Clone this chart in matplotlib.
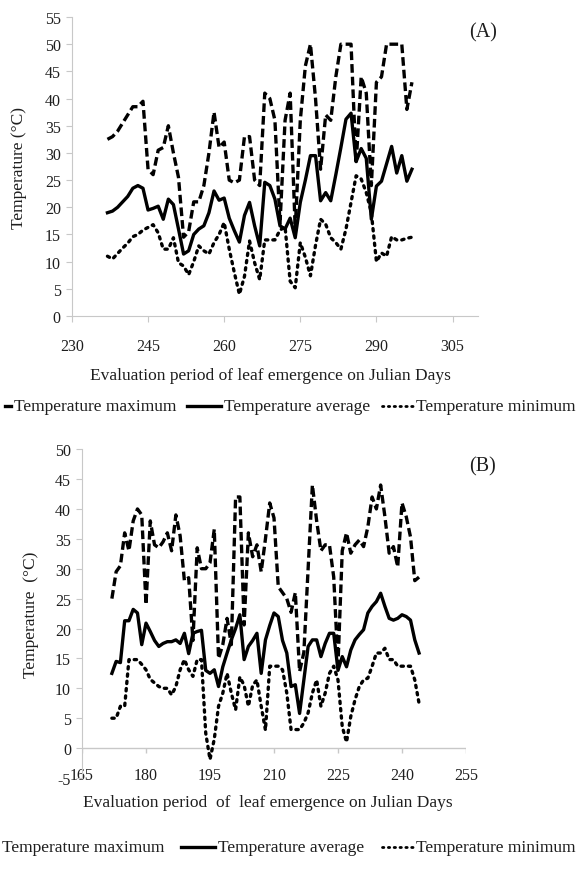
import matplotlib
matplotlib.use("Agg")
import matplotlib.pyplot as plt
from matplotlib.lines import Line2D
import numpy as np

plt.rcParams['font.family'] = ['Liberation Serif', 'DejaVu Serif']
plt.rcParams['axes.unicode_minus'] = False

# Panel A: Julian days 237-297
days_a = np.arange(237, 298)
tmax_a = [32.5, 33, 34, 35.5, 37, 38.5, 38.5, 39.5, 27, 26,
          30.5, 31, 35, 30, 25.5, 14.5, 15.5, 21, 21, 24,
          30, 37.5, 31, 32, 25, 24.5, 25, 33, 33, 25,
          24, 41, 40, 36, 17, 36, 41, 16, 36, 46,
          50, 40, 27, 37, 36, 44, 50, 50, 50, 28,
          44, 41, 24, 43, 44, 50, 50, 50, 50, 38,
          43]
tavg_a = [19, 19.3, 20, 21, 22, 23.5, 24, 23.5, 19.5, 19.8,
          20.2, 17.8, 21.5, 20.5, 16, 11.4, 12, 15, 16, 16.6,
          19, 23, 21.3, 21.7, 18, 15.7, 13.6, 18.5, 20.9, 16.6,
          12.9, 24.6, 24, 21.5, 16.6, 16, 18, 14.4, 20.9, 25,
          29.5, 29.5, 21.2, 22.7, 21.2, 26, 31, 36.2, 37.3, 28.4,
          30.8, 29, 17.8, 23.9, 24.8, 28, 31.2, 26.3, 29.5, 24.8,
          27]
tmin_a = [11, 10.5, 11.5, 12.5, 13.4, 14.6, 15, 15.8, 16.3, 16.8,
          15.3, 12.3, 12.3, 14.4, 9.8, 9.2, 7.6, 10, 12.9, 12,
          11.4, 13.5, 15, 17.2, 12.3, 8, 4, 7.3, 13.8, 9.8,
          6.7, 14, 14, 14, 15.8, 16.4, 6.4, 5.2, 13.5, 10.8,
          7.4, 13, 17.8, 16.9, 14.4, 13.5, 12.3, 16, 20.9, 25.8,
          25.2, 22.7, 19, 10, 11.6, 11, 14.6, 14, 14, 14.3,
          14.5]

# Panel B: Julian days 172-244
days_b = np.arange(172, 245)
tmax_b = [25, 29.5, 30.5, 36, 33, 38, 40, 39, 24, 38,
          34, 33.5, 34.5, 36, 33, 39, 35.5, 28, 28.5, 18,
          33.5, 30, 30, 31, 36.6, 15, 17.3, 21.7, 17.3, 42,
          42, 20.6, 36, 32, 34, 29.5, 35, 41, 38.5, 27,
          26, 25, 22.7, 26, 12.8, 16, 30, 44, 38, 33,
          34, 34, 28.6, 14, 33, 36, 32.6, 34, 34.8, 33.7,
          37, 42, 40, 44, 38.7, 32.6, 33.7, 30.3, 41, 38.7,
          35.3, 28, 28.6]
tavg_b = [12.5, 14.5, 14.3, 21.3, 21.3, 23.2, 22.6, 17.3, 20.9, 19.5,
          18, 17, 17.5, 17.8, 17.8, 18.1, 17.5, 19.2, 15.8, 19.2,
          19.5, 19.7, 13, 12.5, 13.1, 10.3, 13.6, 15.9, 18.1, 20,
          22.3, 14.8, 17, 18, 19.2, 12.5, 18.1, 20.5, 22.6, 22,
          18, 15.9, 10.3, 10.6, 5.8, 11.4, 17, 18.1, 18.1, 15.3,
          17.5, 19.2, 19.2, 13, 15.3, 13.6, 16.4, 18.1, 19, 19.8,
          22.6, 23.7, 24.5, 25.9, 23.7, 21.7, 21.4, 21.7, 22.3, 22,
          21.4, 18.1, 15.9]
tmin_b = [5, 5, 7, 7, 14.8, 14.8, 14.8, 14, 13.1, 11.5,
          10.9, 10.3, 10, 10, 8.9, 10.3, 13.1, 14.8, 13.1, 12,
          14.8, 14.8, 2.5, -1.9, 1.5, 7, 9.2, 12.5, 9.2, 6.4,
          11.9, 10.5, 7, 10.5, 11.4, 7, 3, 13.7, 13.7, 13.7,
          13.1, 9.2, 3.1, 3.1, 3.1, 4.2, 5.9, 9.2, 11.4, 7,
          9.2, 12.5, 13.7, 11.4, 3.6, 1, 5.3, 8.1, 10.3, 11.4,
          11.7, 13.7, 15.9, 15.9, 16.7, 14.8, 14.8, 13.7, 13.7, 13.7,
          13.7, 11.4, 7.5]

xticks_a = [230, 245, 260, 275, 290, 305]
yticks_a = list(range(0, 56, 5))
xticks_b = [165, 180, 195, 210, 225, 240, 255]
yticks_b = list(range(-5, 51, 5))

legend_labels = ['Temperature maximum', 'Temperature average', 'Temperature minimum']

GREY = '#c8c8c8'
TXT = '#1e1e1e'
LW = 2.4
DASH = (0, (2.6, 1.2))
DOT = (0, (0.7, 1.5))
DOT_KEY = (0, (0.5, 1.6))


def draw_series(ax, days, tmax, tavg, tmin):
    ax.plot(days, tmax, color='black', lw=LW, linestyle=DASH, dash_capstyle='butt')
    ax.plot(days, tavg, color='black', lw=LW, solid_joinstyle='round')
    ax.plot(days, tmin, color='black', lw=LW, linestyle=DOT, dash_capstyle='round')


def style_axes(ax, yticks, ylim):
    for s in ['top', 'right']:
        ax.spines[s].set_visible(False)
    ax.spines['left'].set_color(GREY)
    ax.spines['bottom'].set_color(GREY)
    ax.set_yticks(yticks)
    ax.set_ylim(*ylim)
    ax.tick_params(axis='y', colors=GREY, labelcolor=TXT, labelsize=11.5, length=4, pad=4)


def legend_row(fig, y, x0, x_end, max_handle, fs=12.5):
    # lay out legend items left to right; spread spare room evenly between items
    W = fig.get_figwidth() * fig.dpi
    renderer = fig.canvas.get_renderer()
    handles = [(max_handle, 'solid' if max_handle else None), (34, 'solid'), (32, DOT_KEY)]
    widths = []
    for label in legend_labels:
        t = fig.text(0, 0, label, fontsize=fs)
        widths.append(t.get_window_extent(renderer).width)
        t.remove()
    used = sum(widths) + sum(h + 3 for h, _ in handles if h)
    gap = (x_end - x0 - used) / 2
    x = x0
    for label, (hlen, ls), w in zip(legend_labels, handles, widths):
        if hlen:
            fig.add_artist(Line2D([x / W, (x + hlen) / W], [y, y], transform=fig.transFigure,
                                  color='black', lw=LW if ls != DOT_KEY else 2.0, linestyle=ls,
                                  dash_capstyle='round'))
            x += hlen + 3
        fig.text(x / W, y, label, fontsize=fs, color=TXT, ha='left', va='center')
        x += w + gap


fig = plt.figure(figsize=(5.8, 8.7), dpi=100)

# ---- panel A
ax_a = fig.add_axes([0.124, 0.6356, 0.700, 0.3437])
draw_series(ax_a, days_a, tmax_a, tavg_a, tmin_a)
style_axes(ax_a, yticks_a, (0, 55))
ax_a.set_xlim(230, 310)
ax_a.set_xticks(xticks_a)
ax_a.tick_params(axis='x', colors=GREY, labelcolor=TXT, labelsize=11.5, length=4, pad=12)
ax_a.set_ylabel('Temperature (°C)', fontsize=12.5, color=TXT)
ax_a.yaxis.set_label_coords(-0.111, 0.5)
fig.text(270 / 580, 1 - 376 / 870, 'Evaluation period of leaf emergence on Julian Days',
         fontsize=12.5, color=TXT, ha='center', va='center')
fig.text(483 / 580, 1 - 33 / 870, '(A)', fontsize=14.5, color=TXT, ha='center', va='center')

# ---- panel B
ax_b = fig.add_axes([0.1414, 0.1046, 0.662, 0.378])
draw_series(ax_b, days_b, tmax_b, tavg_b, tmin_b)
style_axes(ax_b, yticks_b, (-5, 50))
ax_b.set_xlim(165, 255)
ax_b.set_xticks(xticks_b)
ax_b.spines['bottom'].set_visible(False)
ax_b.axhline(0, color=GREY, lw=1, zorder=0)
ax_b.vlines(xticks_b, -0.8, 0, color=GREY, lw=1, zorder=0)
ax_b.tick_params(axis='x', length=0, labelcolor=TXT, labelsize=11.5, pad=-8)
ax_b.set_ylabel('Temperature  (°C)', fontsize=12.5, color=TXT)
ax_b.yaxis.set_label_coords(-0.111, 0.5)
fig.text(268 / 580, 1 - 803 / 870, 'Evaluation period  of  leaf emergence on Julian Days',
         fontsize=12.5, color=TXT, ha='center', va='center')
fig.text(482 / 580, 1 - 467 / 870, '(B)', fontsize=14.5, color=TXT, ha='center', va='center')

# ---- legends
legend_row(fig, 1 - 407 / 870, 5, 576, 6)
legend_row(fig, 1 - 848 / 870, 2, 576, 0)

fig.savefig('out.png', dpi=100)
